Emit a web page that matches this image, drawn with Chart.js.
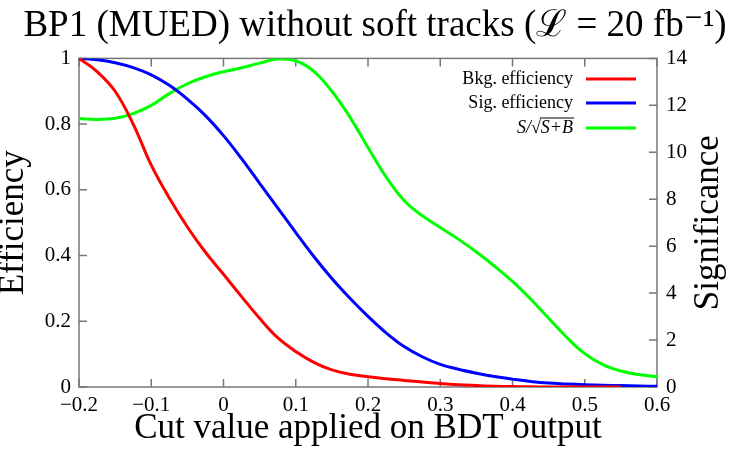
<!DOCTYPE html>
<html><head><meta charset="utf-8">
<script src="https://cdn.jsdelivr.net/npm/chart.js@4/dist/chart.umd.min.js"></script>
<style>html,body{margin:0;padding:0;background:#fff}#wrap{width:750px;height:450px;position:relative}</style>
</head><body><div id="wrap"><canvas id="c" width="750" height="450" style="width:750px;height:450px"></canvas></div>
<script>
const cutValues = [-0.2,-0.175,-0.15,-0.125,-0.1,-0.075,-0.05,-0.025,0,0.025,0.05,0.075,0.1,0.125,0.15,0.175,0.2,0.225,0.25,0.275,0.3,0.325,0.35,0.375,0.4,0.425,0.45,0.475,0.5,0.525,0.55,0.575,0.6];
const bkgEfficiency = [1.0,0.96,0.90,0.80,0.675,0.575,0.487,0.41,0.343,0.275,0.209,0.15,0.108,0.075,0.052,0.039,0.031,0.025,0.02,0.015,0.011,0.007,0.0045,0.0025,0.0012,0.0005,0.0002,0,0,0,0,null,null];
const sigEfficiency = [1.0,0.996,0.987,0.972,0.95,0.918,0.876,0.826,0.765,0.695,0.62,0.545,0.47,0.397,0.33,0.27,0.215,0.165,0.123,0.092,0.069,0.054,0.042,0.032,0.024,0.017,0.012,0.0095,0.0072,0.0055,0.0042,0.003,0.0022];
const significance = [11.44,11.40,11.45,11.65,12.0,12.5,12.92,13.22,13.43,13.6,13.8,13.97,13.9,13.45,12.6,11.5,10.2,8.95,7.95,7.3,6.8,6.3,5.75,5.15,4.5,3.75,2.93,2.12,1.42,0.95,0.68,0.53,0.44];
const xTicks = [-0.2,-0.1,0,0.1,0.2,0.3,0.4,0.5,0.6];
const effTicks = [0,0.2,0.4,0.6,0.8,1];
const sigTicks = [0,2,4,6,8,10,12,14];
const labels = ['Bkg. efficiency','Sig. efficiency','S/\u221AS+B'];
const colors = ['#ff0000','#0000ff','#00ff00'];

const SERIF = '"Liberation Serif","DejaVu Serif",serif';
const FRAME = '#777777';

function pts(ys){ return cutValues.map((x,i)=>({x:x,y:ys[i]})); }
function fmt(v){ const s = (Math.abs(v)<1e-9)?'0':String(Math.round(v*10)/10); return s.replace('-','\u2212'); }

const framePlugin = {
  id:'framePlugin',
  beforeDatasetsDraw(chart){
    const {ctx, chartArea:a, scales} = chart;
    ctx.save();
    ctx.strokeStyle = FRAME; ctx.lineWidth = 1.5;
    ctx.strokeRect(a.left, a.top, a.right-a.left, a.bottom-a.top);
    ctx.beginPath();
    const L = 8;
    xTicks.forEach(v=>{ const px = scales.x.getPixelForValue(v);
      ctx.moveTo(px,a.bottom); ctx.lineTo(px,a.bottom-L);
      ctx.moveTo(px,a.top); ctx.lineTo(px,a.top+L); });
    effTicks.forEach(v=>{ const py = scales.y.getPixelForValue(v);
      ctx.moveTo(a.left,py); ctx.lineTo(a.left+L,py); });
    sigTicks.forEach(v=>{ const py = scales.y2.getPixelForValue(v);
      ctx.moveTo(a.right,py); ctx.lineTo(a.right-L,py); });
    ctx.stroke();
    ctx.restore();
  },
  afterDraw(chart){
    const {ctx, chartArea:a} = chart;
    ctx.save();
    ctx.font = '35px '+SERIF;
    ctx.fillStyle = '#000';
    ctx.textAlign = 'center'; ctx.textBaseline = 'middle';
    ctx.translate(709, (a.top+a.bottom)/2);
    ctx.rotate(-Math.PI/2);
    ctx.fillText('Significance',0,0);
    ctx.restore();
    ctx.save();
    const rows = [79,103,128];
    const textRight = 573, lx0 = 586, lx1 = 636;
    ctx.textAlign='right'; ctx.textBaseline='middle'; ctx.fillStyle='#000';
    rows.forEach((y,i)=>{
      if(i<2){ ctx.font = '18px '+SERIF; ctx.fillText(labels[i], textRight, y); }
      else {
        ctx.font = 'italic 18px '+SERIF;
        const t = labels[i];
        ctx.fillText(t, textRight, y);
        const wSB = ctx.measureText('S+B').width;
        ctx.strokeStyle='#000'; ctx.lineWidth=1;
        ctx.beginPath(); ctx.moveTo(textRight-wSB-1, y-10); ctx.lineTo(textRight+1, y-10); ctx.stroke();
      }
      ctx.strokeStyle = colors[i]; ctx.lineWidth = 3;
      ctx.beginPath(); ctx.moveTo(lx0,y); ctx.lineTo(lx1,y); ctx.stroke();
    });
    ctx.restore();
  }
};

new Chart(document.getElementById('c'), {
  type:'line',
  data:{ datasets:[
    {label:labels[0], data:pts(bkgEfficiency), borderColor:colors[0], yAxisID:'y'},
    {label:labels[1], data:pts(sigEfficiency), borderColor:colors[1], yAxisID:'y'},
    {label:labels[2], data:pts(significance), borderColor:colors[2], yAxisID:'y2'}
  ]},
  options:{
    responsive:false, animation:false, devicePixelRatio:1,
    layout:{padding:0},
    elements:{ line:{borderWidth:3, tension:0.4, fill:false, capBezierPoints:true}, point:{radius:0} },
    plugins:{
      legend:{display:false}, tooltip:{enabled:false},
      title:{display:true, text:'BP1 (MUED) without soft tracks (\u2112 = 20 fb\u207B\u00B9)', color:'#000',
        font:{family:SERIF, size:37, weight:'normal'}, padding:{top:4,bottom:10}}
    },
    scales:{
      x:{ type:'linear', min:-0.2, max:0.6,
        afterBuildTicks(s){ s.ticks = xTicks.map(v=>({value:v})); },
        afterFit(s){ s.height = 63; },
        grid:{display:false, drawTicks:false}, border:{display:false},
        ticks:{ color:'#000', font:{family:SERIF,size:21}, padding:6, maxRotation:0, callback:(v)=>fmt(v) },
        title:{display:true, text:'Cut value applied on BDT output', color:'#000', font:{family:SERIF,size:35}, padding:{top:3,bottom:0}}
      },
      y:{ position:'left', min:0, max:1,
        afterBuildTicks(s){ s.ticks = effTicks.map(v=>({value:v})); },
        afterFit(s){ s.width = 79; },
        grid:{display:false, drawTicks:false}, border:{display:false},
        ticks:{ color:'#000', font:{family:SERIF,size:21}, padding:8, callback:(v)=>fmt(v) },
        title:{display:true, text:'Efficiency', color:'#000', font:{family:SERIF,size:35,lineHeight:0.8}, padding:{top:0,bottom:0}}
      },
      y2:{ position:'right', min:0, max:14,
        afterBuildTicks(s){ s.ticks = sigTicks.map(v=>({value:v})); },
        afterFit(s){ s.width = 93; },
        grid:{display:false, drawTicks:false}, border:{display:false},
        ticks:{ color:'#000', font:{family:SERIF,size:21}, padding:9, callback:(v)=>String(v) }
      }
    }
  },
  plugins:[framePlugin]
});
</script></body></html>
